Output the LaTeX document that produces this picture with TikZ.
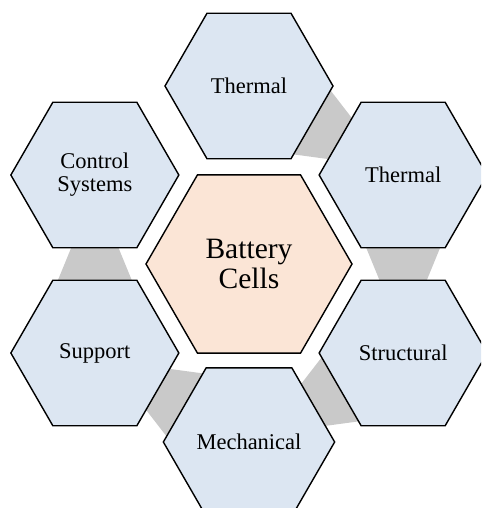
\documentclass[tikz,border=0pt]{standalone}
\usepackage{fontspec}
\setmainfont{Liberation Serif}
\usepackage{tikz}
\usetikzlibrary{shapes.geometric,calc,backgrounds}
\definecolor{hexblue}{HTML}{DCE6F2}
\definecolor{hexpeach}{HTML}{FBE5D6}
\definecolor{linkgray}{HTML}{C9C9C9}

\begin{document}
\begin{tikzpicture}[
    hexo/.style={regular polygon, regular polygon sides=6, minimum size=4.2cm, inner sep=0pt,
      draw=black, line width=1pt, fill=hexblue, align=center,
      font=\fontsize{16}{16.5}\selectfont},
    hexc/.style={hexo, minimum size=5.15cm, fill=hexpeach,
      font=\fontsize{21}{21.5}\selectfont},
    link/.style={fill=linkgray}]
    \useasboundingbox (-6.225,-6.1) rectangle (5.8,6.6);
    \clip (-6.225,-6.1) rectangle (5.8,6.6);
    \node[hexc] (cells) at (0,0) {Battery\\Cells};
    \node[hexo] (thermtop) at (90:4.45) {Thermal};
    \node[hexo] (thermright) at (30:4.45) {Thermal};
    \node[hexo] (structural) at (-30:4.45) {Structural};
    \node[hexo] (mechanical) at (-90:4.45) {Mechanical};
    \node[hexo] (support) at (-150:4.45) {Support};
    \node[hexo] (control) at (150:4.45) {Control\\Systems};
    \begin{scope}[on background layer]
      \foreach \a/\b/\t in {thermtop/thermright/-30, thermright/structural/-90,
          structural/mechanical/-150, mechanical/support/150, support/control/90}
        \fill[link] ($(\a)+(\t:1.78)+(\t+90:0.94)$) -- ($(\a)+(\t:1.78)+(\t-90:0.94)$)
          -- ($(\b)+(\t+180:1.78)+(\t-90:0.575)$) -- ($(\b)+(\t+180:1.78)+(\t+90:0.575)$) -- cycle;
    \end{scope}
  \end{tikzpicture}
\end{document}
